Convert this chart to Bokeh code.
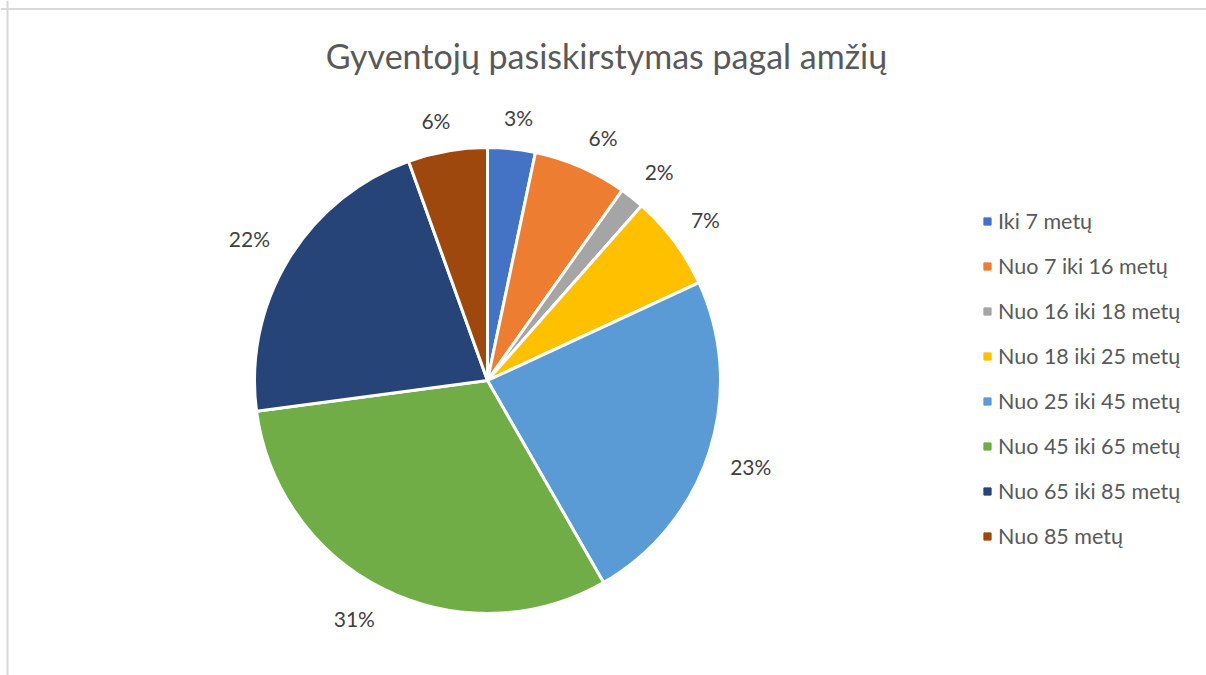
import numpy as np
from bokeh.plotting import figure
from bokeh.models import Range1d, Span, Label, Legend, LegendItem, ColumnDataSource
from bokeh.core.properties import value
from bokeh.embed import file_html
from bokeh.resources import INLINE

# ---- data ----
categories = ["Iki 7 metų", "Nuo 7 iki 16 metų", "Nuo 16 iki 18 metų", "Nuo 18 iki 25 metų",
              "Nuo 25 iki 45 metų", "Nuo 45 iki 65 metų", "Nuo 65 iki 85 metų", "Nuo 85 metų"]
shares = [3.3, 6.5, 1.7, 6.6, 23.6, 31.2, 21.6, 5.5]
labels = ["3%", "6%", "2%", "7%", "23%", "31%", "22%", "6%"]
colors = ["#4472C4", "#ED7D31", "#A5A5A5", "#FFC000", "#5B9BD5", "#70AD47", "#264478", "#9E480E"]
title_text = "Gyventojų pasiskirstymas pagal amžių"

FONT = "Lato"
W, H = 1206, 675
CX, CY, R = 487, 295, 233

vals = np.array(shares, dtype=float)
frac = vals / vals.sum()
cum = np.concatenate([[0], np.cumsum(frac)])
start = np.pi / 2 - 2 * np.pi * cum[:-1]
end = np.pi / 2 - 2 * np.pi * cum[1:]
mid = (start + end) / 2

# label positions: outside end, box corner offset along the mid angle
lw = np.array([len(s) * 13.5 for s in labels])
lh = 18.0
dx, dy = np.cos(mid), np.sin(mid)
lx = CX + (R + 22) * dx + (lw / 2) * np.clip(dx / 0.3, -1, 1)
ly = CY + (R + 22) * dy + (lh / 2) * np.clip(dy / 0.3, -1, 1)

src = ColumnDataSource(dict(cat=categories, start=end, end=start, color=colors,
                            lx=lx, ly=ly, lab=labels))

p = figure(width=W, height=H, output_backend="svg", toolbar_location=None,
           x_range=Range1d(0, W), y_range=Range1d(0, H), min_border=0,
           outline_line_color=None)
p.axis.visible = False
p.grid.visible = False
p.background_fill_color = "white"
p.border_fill_color = "white"

p.wedge(x=CX, y=CY, radius=R, start_angle="start", end_angle="end",
        fill_color="color", line_color="white", line_width=3, source=src)

p.text(x="lx", y="ly", text="lab", source=src, text_align="center", text_baseline="middle",
       text_font=value(FONT), text_font_size="21px", text_color="#404040")

# legend via square proxies
items = []
for c, col in zip(categories, colors):
    r = p.scatter(x=[-100], y=[-100], marker="square", size=9, fill_color=col, line_color=col)
    items.append(LegendItem(label=c, renderers=[r]))
leg = Legend(items=items, location=(978, 126), orientation="vertical",
             glyph_width=18, glyph_height=18, label_standoff=2, spacing=19, label_height=20,
             label_text_font=FONT, label_text_font_size="21.5px", label_text_color="#595959",
             border_line_color=None, background_fill_alpha=0, padding=0, margin=0)
p.add_layout(leg, "center")

p.add_layout(Label(x=606, y=620, text=title_text, text_align="center", text_baseline="middle",
                   text_font=FONT, text_font_size="34px", text_color="#595959"))

p.add_layout(Span(location=7, dimension="height", line_color="#d9d9d9", line_width=2))
p.add_layout(Span(location=H - 8.5, dimension="width", line_color="#d9d9d9", line_width=2))

open("out.html", "w").write(file_html(p, INLINE))
